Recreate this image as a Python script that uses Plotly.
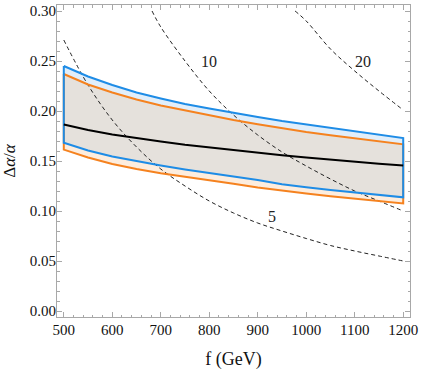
import plotly.graph_objects as go

# scale f (GeV) for the band curves
f_band = [500, 550, 600, 650, 700, 750, 800, 850, 900, 950, 1000, 1050, 1100, 1150, 1200]

blue_top = [0.245, 0.2345, 0.226, 0.2185, 0.2125, 0.207, 0.2025, 0.198, 0.194, 0.190,
            0.1865, 0.183, 0.1795, 0.176, 0.173]
orange_top = [0.237, 0.2265, 0.2185, 0.2115, 0.2055, 0.2005, 0.1955, 0.191, 0.1868, 0.1828,
              0.179, 0.1757, 0.1725, 0.1695, 0.1667]
central = [0.1865, 0.181, 0.1765, 0.1728, 0.1695, 0.1663, 0.1635, 0.1608, 0.1583, 0.1558,
           0.1535, 0.1513, 0.1493, 0.1473, 0.1455]
blue_bottom = [0.1683, 0.1605, 0.1545, 0.1497, 0.1455, 0.1415, 0.1378, 0.1343, 0.131, 0.1268,
               0.1238, 0.121, 0.1185, 0.116, 0.1137]
orange_bottom = [0.1614, 0.1535, 0.147, 0.142, 0.1378, 0.134, 0.1305, 0.1272, 0.1235, 0.1203,
                 0.1175, 0.1148, 0.1122, 0.1098, 0.1075]

# dashed contours (labelled 5, 10, 20)
f_c5 = [500, 550, 600, 650, 700, 750, 800, 850, 900, 950, 1000, 1050, 1100, 1150, 1200]
c5 = [0.271, 0.226, 0.191, 0.164, 0.142, 0.125, 0.110, 0.098, 0.088, 0.080, 0.0725, 0.0655,
      0.060, 0.055, 0.050]
f_c10 = [682, 700, 750, 800, 850, 900, 950, 1000, 1050, 1100, 1150, 1200]
c10 = [0.300, 0.284, 0.250, 0.220, 0.196, 0.176, 0.159, 0.145, 0.132, 0.120, 0.110, 0.100]
f_c20 = [977, 1000, 1050, 1100, 1150, 1200]
c20 = [0.300, 0.290, 0.262, 0.240, 0.220, 0.201]

contour_labels = ["5", "10", "20"]
label_f = [929, 800, 1117]
label_y = [0.095, 0.250, 0.250]

BLUE = "#1E8CE6"
ORANGE = "#F5821F"
FRAME = "#A8A8A8"
SERIF = "Liberation Serif"

fig = go.Figure()


def band(upper, lower, color):
    # closed region between two curves
    fig.add_trace(go.Scatter(
        x=f_band + f_band[::-1], y=upper + lower[::-1],
        fill="toself", fillcolor=color, mode="lines",
        line=dict(width=0), hoverinfo="skip"))


band(blue_top, orange_top, "#E1EEFA")
band(orange_top, blue_bottom, "#E5E1DC")
band(blue_bottom, orange_bottom, "#FDEDDE")

for fx, fy in [(f_c5, c5), (f_c10, c10), (f_c20, c20)]:
    fig.add_trace(go.Scatter(x=fx, y=fy, mode="lines", line_shape="spline",
                             line=dict(color="#222222", width=1, dash="4px,3px")))

# band outlines, closed with vertical edges
for top, bot, col in [(orange_top, orange_bottom, ORANGE), (blue_top, blue_bottom, BLUE)]:
    fig.add_trace(go.Scatter(
        x=f_band + f_band[::-1] + [f_band[0]],
        y=top + bot[::-1] + [top[0]],
        mode="lines", line=dict(color=col, width=2)))

fig.add_trace(go.Scatter(x=f_band, y=central, mode="lines",
                         line=dict(color="black", width=2)))

for txt, lx, ly in zip(contour_labels, label_f, label_y):
    fig.add_annotation(x=lx, y=ly, text=txt, showarrow=False,
                       font=dict(family=SERIF, size=16, color="#222222"))

axis_common = dict(
    showgrid=False, zeroline=False, showline=True, linecolor=FRAME, linewidth=1,
    mirror="ticks", ticks="inside", ticklen=5, tickcolor=FRAME, tickwidth=1,
    tickfont=dict(family=SERIF, size=15, color="#111111"),
)

fig.update_xaxes(
    range=[486, 1214], tick0=500, dtick=100, ticklabelstandoff=-1,
    minor=dict(ticks="inside", dtick=20, ticklen=2.5, tickcolor=FRAME),
    title=dict(text="f (GeV)", font=dict(family=SERIF, size=18, color="#111111"), standoff=16),
    **axis_common)
fig.update_yaxes(
    range=[-0.006, 0.306], tick0=0, dtick=0.05, tickformat=".2f", ticklabelstandoff=-3,
    minor=dict(ticks="inside", dtick=0.01, ticklen=2.5, tickcolor=FRAME),
    title=dict(text="Δ<i>α</i>/<i>α</i>", font=dict(family=SERIF, size=17, color="#111111"),
               standoff=15),
    **axis_common)

fig.update_layout(
    width=421, height=370,
    margin=dict(l=57, r=9, t=3, b=48),
    plot_bgcolor="white", paper_bgcolor="white",
    showlegend=False,
)

# page body has a default 8px margin; drop it so the figure sits at the corner
fig.write_html("out.html", config={"displayModeBar": False},
               post_script="document.body.style.margin='0';")
